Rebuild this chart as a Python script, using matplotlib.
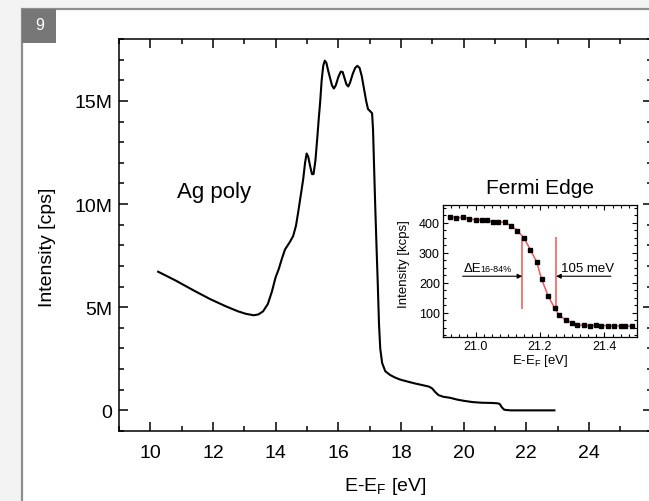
import matplotlib
matplotlib.use("Agg")
import matplotlib.pyplot as plt
from matplotlib.patches import Rectangle
from matplotlib.ticker import MultipleLocator, FuncFormatter

plt.rcParams['font.family'] = ['Liberation Sans', 'DejaVu Sans']

# Ag polycrystal valence band spectrum (intensity in millions of cps)
energy = [10.25, 10.8, 11.4, 11.9, 12.4, 12.8, 13.05, 13.3, 13.45, 13.6, 13.75,
          13.88, 14.0, 14.1, 14.2, 14.3, 14.45, 14.56, 14.65, 14.72, 14.8, 14.88,
          14.94, 14.99, 15.04, 15.10, 15.16, 15.21, 15.27, 15.33, 15.38, 15.42,
          15.47, 15.52, 15.57, 15.62, 15.68, 15.74, 15.80, 15.86, 15.92, 16.0,
          16.08, 16.14, 16.2, 16.26, 16.32, 16.38, 16.46, 16.54, 16.61, 16.68,
          16.75, 16.82, 16.89, 16.95, 17.02, 17.08, 17.11, 17.14, 17.18, 17.22,
          17.26, 17.30, 17.34, 17.40, 17.50, 17.65, 17.8, 17.96, 18.2, 18.46,
          18.7, 18.9, 19.0, 19.1, 19.2, 19.35, 19.57, 19.8, 20.02, 20.3, 20.58,
          20.9, 21.1, 21.16, 21.22, 21.3, 21.5, 22.0, 22.9]
intensity = [6.72, 6.30, 5.80, 5.40, 5.05, 4.80, 4.68, 4.61, 4.65, 4.80, 5.15,
             5.75, 6.45, 6.85, 7.35, 7.80, 8.15, 8.45, 8.95, 9.60, 10.40, 11.20,
             12.0, 12.45, 12.3, 11.85, 11.45, 11.45, 12.1, 13.2, 14.2, 14.9,
             16.0, 16.7, 16.95, 16.85, 16.45, 16.1, 15.75, 15.6, 15.75, 16.15,
             16.42, 16.40, 16.1, 15.8, 15.7, 15.9, 16.3, 16.6, 16.7, 16.6,
             16.2, 15.6, 15.0, 14.6, 14.5, 14.4, 13.6, 12.0, 9.9, 8.0,
             6.2, 4.2, 3.0, 2.3, 1.9, 1.72, 1.6, 1.50, 1.40, 1.30,
             1.22, 1.15, 1.06, 0.88, 0.74, 0.66, 0.61, 0.52, 0.46, 0.40, 0.37,
             0.36, 0.34, 0.30, 0.15, 0.03, 0.0, 0.0, 0.0]
x_ticks = [10, 12, 14, 16, 18, 20, 22, 24]

# Fermi edge detail (kcps)
fermi_e = [20.92, 20.94, 20.96, 20.98, 21.00, 21.02, 21.035, 21.055, 21.07, 21.09,
           21.11, 21.13, 21.15, 21.17, 21.19, 21.205, 21.225, 21.245, 21.26, 21.28,
           21.30, 21.315, 21.335, 21.355, 21.375, 21.39, 21.41, 21.43, 21.45,
           21.465, 21.485]
fermi_i = [421, 417, 419, 414, 410, 410, 409, 403, 404, 402,
           391, 374, 350, 311, 269, 212, 157, 116, 91, 76,
           67, 60, 58, 57, 58, 57, 57, 56, 56,
           56, 55]
edge_low, edge_high = 21.145, 21.25      # 16 % and 84 % positions
width_label = "105 meV"
marker_range = (113, 353)

W, H = 649, 502
fig = plt.figure(figsize=(W / 100, H / 100), dpi=100)
fig.patch.set_facecolor('#f3f3f3')

# white card with grey frame and number badge (behind the axes)
fig.patches.append(Rectangle((22.5 / W, -0.05), 1.2, (H - 10) / H + 0.05,
                             transform=fig.transFigure, facecolor='white',
                             edgecolor='#8e8e8e', linewidth=1.6, zorder=-10))
fig.patches.append(Rectangle((22.5 / W, (H - 43.5) / H), 33 / W, 33.5 / H,
                             transform=fig.transFigure, facecolor='#777777',
                             edgecolor='none', zorder=-9))
fig.text(39.5 / W, (H - 26) / H, "9", color='white', fontsize=11.5,
         ha='center', va='center')

# main axes
ax = fig.add_axes([119 / W, (H - 432) / H, (651.5 - 119) / W, (432 - 40) / H])
ax.patch.set_alpha(0)
ax.plot(energy, intensity, color='black', lw=1.5, solid_joinstyle='round')
ax.set_xlim(9, 26)
ax.set_ylim(-1, 18)
ax.set_xticks(x_ticks)
ax.xaxis.set_minor_locator(MultipleLocator(1))
ax.yaxis.set_major_locator(MultipleLocator(5))
ax.yaxis.set_minor_locator(MultipleLocator(1))
ax.yaxis.set_major_formatter(FuncFormatter(lambda v, p: "0" if v == 0 else f"{v:g}M"))
ax.tick_params(which='both', direction='in', top=True, right=True, width=1.1,
               labelsize=14, colors='black')
ax.tick_params(which='major', length=6.3)
ax.tick_params(which='minor', length=3.8)
ax.tick_params(axis='x', pad=9.5)
ax.tick_params(axis='y', pad=5)
for s in ax.spines.values():
    s.set_linewidth(1.1)
ax.set_xlabel("E-E$_\\mathregular{F}$ [eV]", fontsize=14, labelpad=10)
ax.set_ylabel("Intensity [cps]", fontsize=14)
ax.yaxis.set_label_coords(-0.118, 0.47)
ax.text(12.03, 10.63, "Ag poly", fontsize=16, ha='center', va='center')

# inset: Fermi edge
axi = fig.add_axes([443.3 / W, (H - 337.7) / H, (636.7 - 443.3) / W, (337.7 - 206) / H])
axi.plot(fermi_e, fermi_i, color='#ee5a5a', lw=1.1, zorder=2)
axi.plot(fermi_e, fermi_i, ls='none', marker='s', ms=3.4, color='black', zorder=3)
axi.vlines([edge_low, edge_high], *marker_range, color='#f07a7a', lw=1.4, zorder=1)
axi.set_xlim(20.9, 21.5)
axi.set_ylim(20, 460)
axi.xaxis.set_major_locator(MultipleLocator(0.2))
axi.xaxis.set_minor_locator(MultipleLocator(0.025))
axi.yaxis.set_major_locator(MultipleLocator(100))
axi.yaxis.set_minor_locator(MultipleLocator(25))
axi.xaxis.set_major_formatter(FuncFormatter(lambda v, p: f"{v:.1f}"))
axi.tick_params(which='both', direction='in', top=True, right=True, width=0.8,
                labelsize=9, pad=2.5)
axi.tick_params(which='major', length=3.5)
axi.tick_params(which='minor', length=2)
for s in axi.spines.values():
    s.set_linewidth(0.9)
axi.set_xlabel("E-E$_\\mathregular{F}$ [eV]", fontsize=9.5, labelpad=0)
axi.set_ylabel("Intensity [kcps]", fontsize=9.5, labelpad=1)
axi.yaxis.set_label_coords(-0.17, 0.56)
axi.text(0.5, 1.13, "Fermi Edge", transform=axi.transAxes, fontsize=15,
         ha='center', va='center')

arrow_y = 222
axi.annotate("", xy=(edge_low, arrow_y), xytext=(20.96, arrow_y),
             arrowprops=dict(arrowstyle='-|>', color='black', lw=0.8,
                             mutation_scale=7, shrinkA=0, shrinkB=0))
axi.annotate("", xy=(edge_high, arrow_y), xytext=(21.42, arrow_y),
             arrowprops=dict(arrowstyle='-|>', color='black', lw=0.8,
                             mutation_scale=7, shrinkA=0, shrinkB=0))
axi.text(20.963, 240, "ΔE", fontsize=9.5, ha='left', va='baseline')
axi.text(21.015, 240, "16-84%", fontsize=6.5, ha='left', va='baseline')
axi.text(21.265, 240, width_label, fontsize=9.5, ha='left', va='baseline')

fig.savefig("out.png", dpi=100, facecolor=fig.get_facecolor())
